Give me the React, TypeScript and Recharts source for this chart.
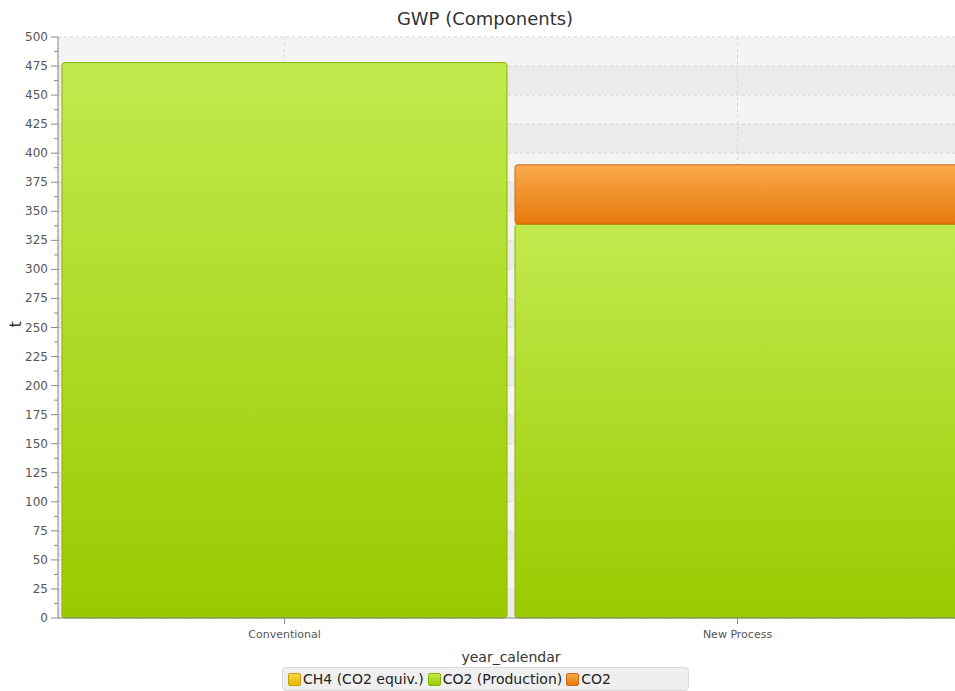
import { BarChart, Bar, XAxis, YAxis, CartesianGrid, Legend } from "recharts";

const categories = ["Conventional", "New Process"];
const ch4Equiv = [0, 0];
const co2Production = [478, 339];
const co2 = [0, 51];

const yMajorTicks = [0, 25, 50, 75, 100, 125, 150, 175, 200, 225, 250, 275, 300, 325, 350, 375, 400, 425, 450, 475, 500];
const yMinorTicks = [12.5, 37.5, 62.5, 87.5, 112.5, 137.5, 162.5, 187.5, 212.5, 237.5, 262.5, 287.5, 312.5, 337.5, 362.5, 387.5, 412.5, 437.5, 462.5, 487.5];

const seriesInfo = [
  { key: "ch4", name: "CH4 (CO2 equiv.)", top: "#f7d84a", bottom: "#e8b800", stroke: "#c9a000" },
  { key: "co2Production", name: "CO2 (Production)", top: "#c2ea4e", bottom: "#99ca00", stroke: "#88b400" },
  { key: "co2", name: "CO2", top: "#faab4c", bottom: "#e6780a", stroke: "#c96a0c" },
];

const chartData = categories.map((name, i) => ({
  name,
  ch4: ch4Equiv[i],
  co2Production: co2Production[i],
  co2: co2[i],
}));

const FONT = "'DejaVu Sans', Verdana, sans-serif";
const TICK_SIZE = 6;
const TICK_MARGIN = 3;

function YTick(props: any) {
  const { x, y, payload } = props;
  const axisX = x + TICK_SIZE + TICK_MARGIN;
  const isMajor = payload.value % 25 === 0;
  return (
    <g>
      <line x1={axisX} x2={axisX - (isMajor ? 7 : 4)} y1={y} y2={y} stroke="#8a8a8a" />
      {isMajor && (
        <text x={x - 1} y={y} dy={4} textAnchor="end" fontSize={12} fill="#555" fontFamily={FONT}>
          {payload.value}
        </text>
      )}
    </g>
  );
}

function LegendBox() {
  return (
    <div style={{ display: "flex", justifyContent: "center" }}>
      <div
        style={{
          display: "flex",
          alignItems: "center",
          width: 407,
          height: 24,
          boxSizing: "border-box",
          padding: "0 0 0 5px",
          background: "#efefef",
          border: "1px solid #d9d9d9",
          borderRadius: 4,
          fontFamily: FONT,
          fontSize: 14,
          color: "#222",
          whiteSpace: "nowrap",
        }}
      >
        {seriesInfo.map((s) => (
          <span key={s.key} style={{ display: "inline-flex", alignItems: "center", marginRight: 4 }}>
            <span
              style={{
                width: 11,
                height: 11,
                marginRight: 2,
                borderRadius: 2,
                border: `1px solid ${s.stroke}`,
                background: `linear-gradient(${s.top}, ${s.bottom})`,
              }}
            />
            {s.name}
          </span>
        ))}
      </div>
    </div>
  );
}

export default function App() {
  return (
    <div
      style={{
        position: "absolute",
        left: 0,
        top: 0,
        width: 955,
        height: 691,
        overflow: "hidden",
        background: "#fff",
      }}
    >
      <div
        style={{
          position: "absolute",
          left: 0,
          width: 970,
          top: 8,
          textAlign: "center",
          fontFamily: FONT,
          fontSize: 18,
          color: "#333",
        }}
      >
        GWP (Components)
      </div>
      <BarChart
        width={964}
        height={691}
        data={chartData}
        margin={{ top: 37, right: 0, left: 0, bottom: 0 }}
        barCategoryGap={4}
      >
        <defs>
          {seriesInfo.map((s) => (
            <linearGradient key={s.key} id={`grad-${s.key}`} x1="0" y1="0" x2="0" y2="1">
              <stop offset="0%" stopColor={s.top} />
              <stop offset="100%" stopColor={s.bottom} />
            </linearGradient>
          ))}
        </defs>
        <CartesianGrid
          strokeDasharray="3 3"
          stroke="#d6d6d6"
          horizontalValues={yMajorTicks}
          horizontalFill={["#f4f4f4", "#ebebeb"]}
          fillOpacity={1}
        />
        <XAxis
          dataKey="name"
          height={49}
          tickSize={TICK_SIZE}
          tickMargin={6}
          stroke="#8a8a8a"
          tick={{ fontSize: 11, fill: "#555", fontFamily: FONT }}
          label={{ value: "year_calendar", position: "insideBottom", offset: 5, fontSize: 14, fill: "#333", fontFamily: FONT }}
        />
        <YAxis
          width={58}
          domain={[0, 500]}
          ticks={[...yMajorTicks, ...yMinorTicks].sort((a, b) => a - b)}
          interval={0}
          tickSize={TICK_SIZE}
          tickMargin={TICK_MARGIN}
          tickLine={false}
          stroke="#8a8a8a"
          tick={<YTick />}
          label={{ value: "t", angle: -90, position: "insideLeft", offset: 15, fontSize: 16, fill: "#333", fontFamily: FONT }}
        />
        <Legend verticalAlign="bottom" content={<LegendBox />} wrapperStyle={{ left: 0, width: 971, bottom: 0 }} />
        {seriesInfo.map((s) => (
          <Bar
            key={s.key}
            dataKey={s.key}
            name={s.name}
            stackId="a"
            fill={`url(#grad-${s.key})`}
            stroke={s.stroke}
            strokeWidth={1}
            radius={3}
            isAnimationActive={false}
          />
        ))}
      </BarChart>
    </div>
  );
}
